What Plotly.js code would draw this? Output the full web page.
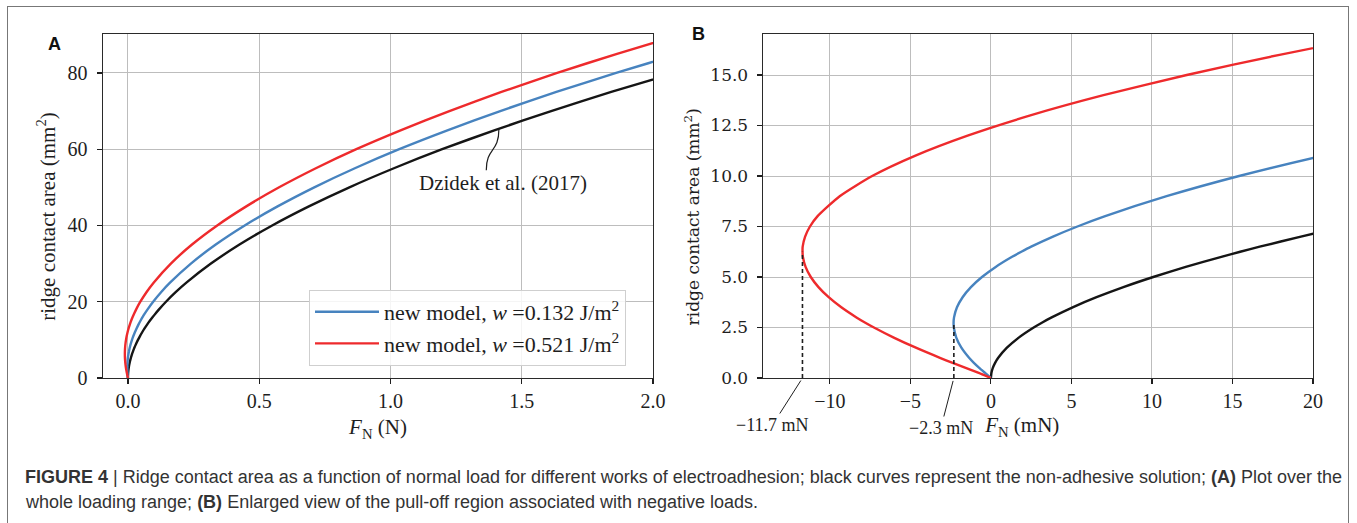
<!DOCTYPE html>
<html>
<head>
<meta charset="utf-8">
<script src="https://cdn.plot.ly/plotly-3.0.1.min.js"></script>
<style>
  html, body { margin: 0; padding: 0; background: #ffffff; overflow: hidden; }
  #wrap { position: relative; width: 1357px; height: 523px; overflow: hidden; }
  #chart { position: absolute; left: 0; top: 0; width: 1357px; height: 523px; }
  /* figure frame, open past the bottom edge of the page */
  #frame { position: absolute; left: 7px; top: 6px; width: 1342px; height: 600px;
           border: 1.5px solid #777777; box-sizing: border-box; pointer-events: none; }
</style>
</head>
<body>
<div id="wrap">
  <div id="chart"></div>
  <div id="frame"></div>
</div>
<script>
// Ridge contact area (mm^2) at which each curve is sampled.
const areaGrid = [0, 0.25, 0.5, 0.75, 1, 1.5, 2, 2.5, 2.75, 3, 3.5, 4, 4.5, 5, 5.5, 6, 6.25, 6.5, 7, 7.5,
  8, 9, 10, 11, 12, 13, 14, 15, 16, 17, 18, 20, 22.5, 25, 30, 35, 40, 45, 50, 55, 60, 65, 70, 75, 80, 85, 90];

// Normal load (mN) for each area value.
// Non-adhesive solution, Dzidek et al. (2017)
const forceDzidek = [0, 0.032, 0.120, 0.262, 0.456, 0.995, 1.730, 2.657, 3.192, 3.773, 5.075, 6.561, 8.228,
  10.08, 12.10, 14.31, 15.48, 16.69, 19.25, 21.98, 24.88, 31.20, 38.20, 45.89, 54.25, 63.27, 72.98, 83.35,
  94.35, 106.0, 118.4, 144.9, 181.7, 222.6, 316.1, 424.9, 549.5, 689.2, 843.6, 1013, 1197, 1398, 1612,
  1841, 2084, 2343, 2614];
// New model, w = 0.132 J/m^2
const forceW0132 = [0, -0.362, -0.724, -1.057, -1.354, -1.833, -2.150, -2.302, -2.316, -2.288, -2.106,
  -1.756, -1.239, -0.554, 0.298, 1.317, 1.892, 2.501, 3.856, 5.373, 7.053, 10.91, 15.41, 20.58, 26.40,
  32.86, 39.99, 47.75, 56.14, 65.15, 74.9, 96.05, 126.1, 160.2, 239.8, 334.5, 444.8, 570.0, 709.8, 864.4,
  1033.5, 1219.4, 1418.2, 1631.9, 1859.6, 2103.0, 2358.4];
// New model, w = 0.521 J/m^2
const forceW0521 = [0, -0.756, -1.568, -2.376, -3.164, -4.660, -6.030, -7.262, -7.824, -8.348, -9.288,
  -10.073, -10.706, -11.184, -11.507, -11.675, -11.695, -11.686, -11.535, -11.234, -10.773, -9.387, -7.372,
  -4.721, -1.447, 2.450, 6.991, 12.16, 17.92, 24.31, 31.4, 47.2, 70.5, 97.8, 163.5, 244.1, 340.1, 450.8,
  575.9, 715.8, 870.0, 1040.8, 1224.4, 1422.8, 1635.1, 1863.0, 2102.9];

// Pull-off points (mN, mm^2) marked in the enlarged view.
const pullOffForce = [-11.7, -2.3];
const pullOffArea = [6.25, 2.75];

const seriesNames = ['Dzidek et al. (2017)', 'new model, <i>w</i> =0.132 J/m<sup>2</sup>',
  'new model, <i>w</i> =0.521 J/m<sup>2</sup>'];

const panelATicksX = [0, 0.5, 1, 1.5, 2];
const panelATicksY = [0, 20, 40, 60, 80];

const W = 1357, H = 523;
const px = v => v / W;
const py = v => 1 - v / H;

const COLORS = ['#151515', '#4783bf', '#ee2a2c'];
const serifLight = 'Liberation Serif, Times New Roman, serif';
const serifHeavy = 'DejaVu Serif, serif';
const sans = 'Liberation Sans, Arial, sans-serif';
const ink = '#1e1e1e';

const allForces = [forceDzidek, forceW0132, forceW0521];
const toNewton = arr => arr.map(v => v / 1000);

const traces = [];
// Panel A: whole loading range, load in N
allForces.forEach((f, i) => {
  traces.push({
    x: toNewton(f), y: areaGrid, xaxis: 'x', yaxis: 'y', type: 'scatter', mode: 'lines',
    name: seriesNames[i], showlegend: i > 0, legendrank: i,
    line: { color: COLORS[i], width: 2.4, shape: 'spline', smoothing: 0.6 },
    hoverinfo: 'skip'
  });
});
// Panel B: pull-off region, load in mN
allForces.forEach((f, i) => {
  traces.push({
    x: f, y: areaGrid, xaxis: 'x2', yaxis: 'y2', type: 'scatter', mode: 'lines',
    name: seriesNames[i], showlegend: false,
    line: { color: COLORS[i], width: 2.4, shape: 'spline', smoothing: 0.6 },
    hoverinfo: 'skip'
  });
});
// Dashed drop lines from the pull-off points to the load axis
pullOffForce.forEach((f, i) => {
  traces.push({
    x: [f, f], y: [0, pullOffArea[i]], xaxis: 'x2', yaxis: 'y2', type: 'scatter', mode: 'lines',
    showlegend: false, hoverinfo: 'skip',
    line: { color: ink, width: 1.6, dash: '4px,3px' }
  });
});

const axisCommon = {
  ticks: 'outside', ticklen: 5, tickwidth: 1.2, tickcolor: ink,
  showline: true, mirror: true, linecolor: '#2a2a2a', linewidth: 1.4,
  showgrid: true, gridcolor: '#bdbdbd', gridwidth: 1, zeroline: false,
  fixedrange: true
};

const minusLabel = v => v.toFixed(1).replace('-', '\u2212') + ' mN';
const pad = n => '&nbsp;'.repeat(n);

const layout = {
  width: W, height: H,
  margin: { l: 0, r: 0, t: 0, b: 0 },
  paper_bgcolor: '#ffffff', plot_bgcolor: '#ffffff',
  showlegend: true,
  legend: {
    x: px(309), y: py(290), xanchor: 'left', yanchor: 'top',
    bgcolor: 'rgba(255,255,255,0.85)', bordercolor: '#cfcfcf', borderwidth: 1,
    font: { family: serifLight, size: 22, color: ink },
    itemwidth: 64, traceorder: 'normal'
  },
  xaxis: Object.assign({}, axisCommon, {
    domain: [px(103), px(653)], range: [-0.095, 2.0], anchor: 'y',
    tickvals: panelATicksX, tickformat: '.1f',
    tickfont: { family: serifLight, size: 20, color: ink },
    title: { text: '<i>F</i><sub>N</sub> (N)', font: { family: serifLight, size: 21, color: ink }, standoff: 8 }
  }),
  yaxis: Object.assign({}, axisCommon, {
    domain: [py(378), py(34)], range: [0, 90.2], anchor: 'x',
    tickvals: panelATicksY, ticklabelstandoff: 5,
    tickfont: { family: serifLight, size: 20, color: ink },
    title: { text: 'ridge contact area (mm<sup>2</sup>)' + pad(4), font: { family: serifLight, size: 21, color: ink }, standoff: 6 }
  }),
  xaxis2: Object.assign({}, axisCommon, {
    domain: [px(763), px(1313)], range: [-14.15, 20], anchor: 'y2',
    tick0: 0, dtick: 5,
    tickfont: { family: serifLight, size: 20, color: ink },
    title: { text: '<i>F</i><sub>N</sub> (mN)' + pad(6), font: { family: serifLight, size: 21, color: ink }, standoff: 6 }
  }),
  yaxis2: Object.assign({}, axisCommon, {
    domain: [py(378), py(34)], range: [0, 17.03], anchor: 'x2',
    tick0: 0, dtick: 2.5, tickformat: '.1f', ticklabelstandoff: 5,
    tickfont: { family: serifHeavy, size: 17, color: ink },
    title: { text: 'ridge contact area (mm<sup>2</sup>)' + pad(4), font: { family: serifHeavy, size: 17, color: ink }, standoff: 6 }
  }),
  shapes: [
    // leader from the reference label to the non-adhesive curve
    { type: 'path', xref: 'x', yref: 'y', path: 'M1.365,54.5 C1.365,60.5 1.413,59 1.413,65.2',
      line: { color: ink, width: 1.2 } }
  ],
  annotations: [
    { xref: 'paper', yref: 'paper', x: px(46), y: py(32), text: '<b>A</b>', showarrow: false,
      font: { family: sans, size: 18, color: '#111' } },
    { xref: 'paper', yref: 'paper', x: px(698), y: py(22), text: '<b>B</b>', showarrow: false,
      font: { family: sans, size: 18, color: '#111' } },
    { xref: 'x', yref: 'y', x: 1.43, y: 51.1, text: 'Dzidek et al. (2017)', showarrow: false,
      font: { family: serifLight, size: 21, color: ink } },
    { xref: 'x2', yref: 'y2', x: pullOffForce[0], y: 0, ax: -30, ay: 47, text: minusLabel(pullOffForce[0]),
      showarrow: true, arrowhead: 0, arrowwidth: 1, arrowcolor: ink, standoff: 3,
      font: { family: serifLight, size: 18, color: ink } },
    { xref: 'x2', yref: 'y2', x: pullOffForce[1], y: 0, ax: -13, ay: 50, text: minusLabel(pullOffForce[1]),
      showarrow: true, arrowhead: 0, arrowwidth: 1, arrowcolor: ink, standoff: 3,
      font: { family: serifLight, size: 18, color: ink } },
    { xref: 'paper', yref: 'paper', x: px(23), y: py(477), xanchor: 'left', yanchor: 'middle', align: 'left',
      showarrow: false,
      text: '<b>FIGURE 4</b> | Ridge contact area as a function of normal load for different works of electroadhesion; black curves represent the non-adhesive solution; <b>(A)</b> Plot over the',
      font: { family: 'Liberation Sans Narrow, Liberation Sans, Arial, sans-serif', size: 18, color: '#333' } },
    { xref: 'paper', yref: 'paper', x: px(23), y: py(502), xanchor: 'left', yanchor: 'middle', align: 'left',
      showarrow: false,
      text: 'whole loading range; <b>(B)</b> Enlarged view of the pull-off region associated with negative loads.',
      font: { family: 'Liberation Sans Narrow, Liberation Sans, Arial, sans-serif', size: 18, color: '#333' } }
  ]
};

Plotly.newPlot('chart', traces, layout, { displayModeBar: false, staticPlot: true });
</script>
</body>
</html>
